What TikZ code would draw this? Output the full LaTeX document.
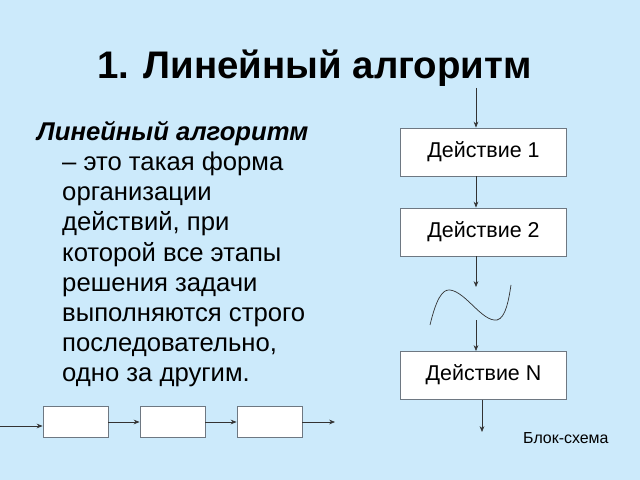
\documentclass[tikz,border=0pt]{standalone}
\usepackage{fontspec}
\setmainfont{Liberation Sans}
\usetikzlibrary{arrows.meta, positioning, calc}
\definecolor{slidebg}{RGB}{204,234,251}
\definecolor{boxline}{RGB}{110,120,130}
\tikzset{
    act/.style={draw=boxline, thick, fill=white, minimum width=5cm, minimum height=1.44cm, text depth=0.45em, font=\fontsize{18.3}{22}\selectfont},
    cell/.style={draw=boxline, thick, fill=white, minimum width=1.95cm, minimum height=0.93cm},
    flow/.style={-{Stealth[length=5pt, width=4pt]}, black!80, semithick},
    deftext/.style={font=\fontsize{21.9}{26}\selectfont, inner sep=0pt}
}

\begin{document}
\begin{tikzpicture}[x=0.03cm, y=-0.03cm]
    % фон слайда
    \fill[slidebg] (0,0) rectangle (640,480);
    \useasboundingbox (0,0) rectangle (640,480);

    % Заголовок
    \node[font=\fontsize{32.8}{38}\selectfont\bfseries, anchor=base west, inner sep=0pt] (title) at (97,79) {1. Линейный алгоритм};

    % Определение
    \node[deftext, font=\fontsize{21.9}{26}\selectfont\bfseries\itshape, anchor=base west] (term) at (37,141) {Линейный алгоритм};
    \foreach \txt [count=\i] in {{– это такая форма}, организации, {действий, при}, {которой все этапы}, {решения задачи}, {выполняются строго}, {последовательно,}, {одно за другим.}}
        \node[deftext, anchor=base west] (line\i) at (62,141+30*\i) {\txt};

    % Блок-схема справа
    \node[act] (a1) at (483.5,152) {Действие 1};
    \node[act] (a2) at (483.5,232) {Действие 2};
    \node[act] (aN) at (483.5,375.5) {Действие N};
    \coordinate (in) at (476,88);
    \coordinate (gapTop) at (476,287);
    \coordinate (gapBot) at (476,320);
    \coordinate (out) at (482,432);

    \draw[flow] (in) -- (a1.north -| in);
    \draw[flow] (a1.south -| in) -- (a2.north -| in);
    \draw[flow] (a2.south -| in) -- (gapTop);
    \draw[flow] (gapBot) -- (aN.north -| gapBot);
    \draw[flow] (aN.south -| out) -- (out);

    % разрыв
    \draw[black!80, semithick] (430,325) .. controls (436,300) and (442,289) .. (450,290)
        .. controls (466,292) and (482,322) .. (497,320)
        .. controls (506,318) and (509,298) .. (511,285);

    \node[font=\fontsize{13.6}{16}\selectfont, anchor=base west, inner sep=0pt] (cap) at (523,443) {Блок-схема};

    % Цепочка внизу
    \node[cell] (c1) at (75.5,421.5) {};
    \node[cell] (c2) at (172.5,421.5) {};
    \node[cell] (c3) at (269.5,421.5) {};
    \coordinate (cin) at (0,426);
    \coordinate (cout) at (335,422);
    \draw[flow] (cin) -- (c1.west |- cin);
    \draw[flow] (c1.east |- cout) -- (c2.west |- cout);
    \draw[flow] (c2.east |- cout) -- (c3.west |- cout);
    \draw[flow] (c3.east |- cout) -- (cout);
\end{tikzpicture}
\end{document}
